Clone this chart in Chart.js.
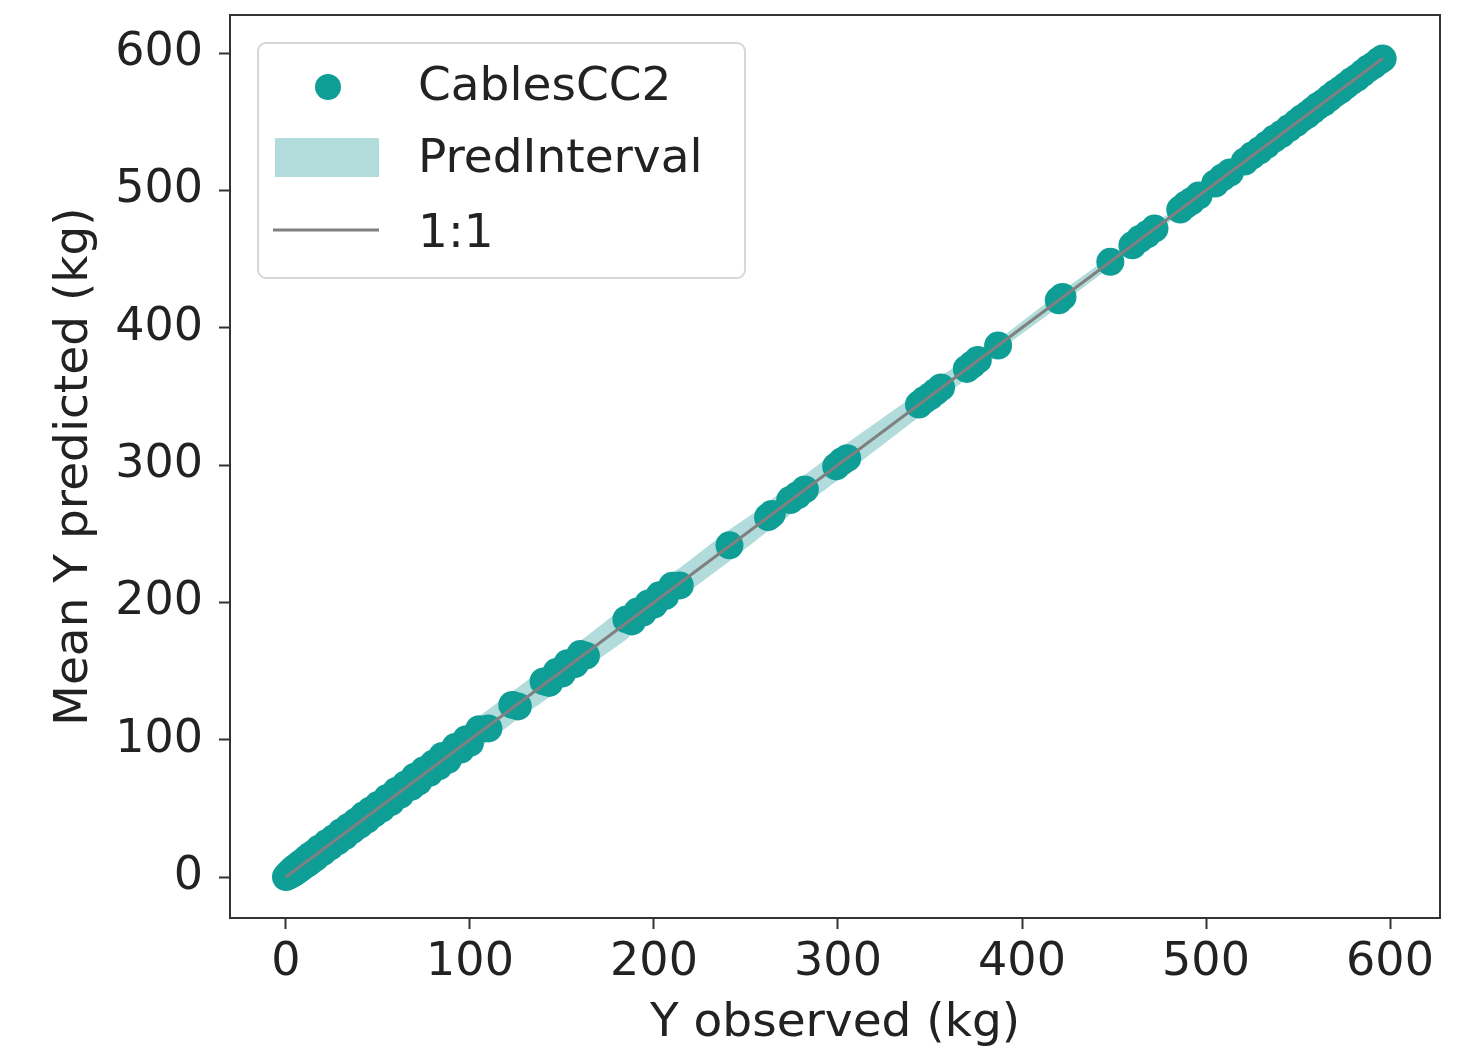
<!DOCTYPE html>
<html>
<head>
<meta charset="utf-8">
<script src="https://cdn.jsdelivr.net/npm/chart.js@4.4.1/dist/chart.umd.min.js"></script>
<style>
  html, body { margin: 0; padding: 0; background: #ffffff; }
  #wrap { width: 1477px; height: 1047px; position: relative; }
</style>
</head>
<body>
<div id="wrap"><canvas id="c" width="1477" height="1047"></canvas></div>
<script>
// ---------- data ----------
const seriesNames = ['CablesCC2', 'PredInterval', '1:1'];
const xTickLabels = [0, 100, 200, 300, 400, 500, 600];
const yTickLabels = [0, 100, 200, 300, 400, 500, 600];
const xTitle = 'Y observed (kg)';
const yTitle = 'Mean Y predicted (kg)';

const observed = [
  0, 1, 2, 3, 4, 5, 6, 7, 8, 9, 10, 11, 12, 13, 14, 15, 16, 18, 20, 22,
  24, 26, 28, 30, 32, 34, 36, 38, 40, 42, 44, 46, 48, 50, 52, 55, 57, 60, 62, 65,
  68, 70, 72, 75, 78, 80, 83, 85, 88, 92, 95, 98, 100, 105, 110, 123, 126, 140, 143, 147,
  150, 153, 157, 160, 163, 185, 188, 191, 194, 197, 200, 203, 206, 210, 214, 241, 262, 264, 274, 278,
  282, 299, 302, 305, 344, 347, 350, 353, 356, 370, 373, 376, 387, 420, 422, 448, 460, 464, 468, 472,
  486, 489, 492, 496, 505, 509, 513, 521, 525, 529, 533, 537, 541, 545, 549, 552, 555, 558, 561, 564,
  567, 570, 573, 576, 579, 582, 585, 588, 591, 594, 596
];
const predicted = [
  0, 1.8, 1.2, 4.5, 2.6, 6.8, 4.4, 8.9, 6.5, 10.8, 8.4, 13.2, 10.1, 15.3, 12.4, 17.2, 14.1, 20.6, 18.1, 24.5,
  22.2, 28.3, 26.0, 32.6, 29.8, 36.4, 34.1, 40.3, 37.9, 44.7, 41.8, 48.5, 46.2, 52.4, 49.8, 57.6, 54.6, 62.7, 59.8, 67.4,
  65.6, 73.0, 69.5, 77.8, 75.9, 82.4, 80.6, 88.1, 85.4, 94.6, 92.8, 100.4, 97.6, 107.6, 108.2, 125.3, 124.2, 142.4, 141.3, 149.2,
  148.1, 155.7, 155.0, 162.3, 161.2, 187.6, 186.1, 193.3, 192.6, 199.2, 198.4, 205.1, 204.5, 212.1, 212.3, 241.5, 262, 264.3, 274.5, 278,
  282.2, 299, 302.5, 305, 344, 347.4, 350, 353.2, 356.5, 370, 373.2, 376.5, 387, 420, 422.4, 448, 460, 464.5, 468, 472.2,
  486, 489.5, 492, 496.2, 505, 509.4, 513, 521, 525.3, 529, 533.2, 537.5, 541, 545.2, 549, 552.4, 555, 558.2, 561.5, 564,
  567.2, 570.5, 573, 576.2, 579.4, 582, 585.2, 588.5, 591, 594.2, 596
];
const intervalLower = [
  -2, -1, -1, 0, 0, 1, 2, 2, 3, 4, 4, 5, 6, 6, 7, 8, 8, 10, 12, 13,
  15, 17, 18, 20, 22, 24, 26, 29, 32, 33, 35, 37, 39, 40, 41, 45, 46, 50, 51, 55,
  57, 60, 61, 65, 67, 70, 72, 75, 77, 82, 84, 88, 89, 94, 99, 112, 115, 128, 131, 136,
  138, 142, 145, 149, 152, 173, 177, 179, 183, 185, 189, 191, 195, 198, 203, 230, 252, 253, 264, 267,
  271, 288, 292, 295, 335, 338, 341, 345, 348, 363, 366, 370, 383, 415, 418, 444, 456, 461, 464, 469,
  483, 486, 489, 493, 502, 507, 510, 519, 523, 527, 531, 535, 539, 543, 547, 550, 553, 556, 559, 562,
  565, 568, 571, 574, 577, 580, 583, 586, 589, 592, 594
];
const intervalUpper = [
  2, 4, 6, 6, 9, 9, 11, 12, 14, 14, 16, 17, 19, 20, 22, 22, 24, 26, 28, 31,
  33, 35, 38, 40, 42, 44, 47, 47, 48, 52, 53, 56, 58, 61, 63, 66, 69, 71, 75, 76,
  80, 82, 85, 86, 91, 91, 95, 96, 100, 103, 108, 109, 112, 117, 122, 135, 138, 152, 156, 159,
  163, 165, 170, 172, 175, 198, 200, 204, 206, 210, 212, 216, 218, 222, 225, 253, 272, 275, 285, 289,
  293, 310, 313, 316, 353, 356, 359, 362, 365, 377, 380, 383, 391, 425, 427, 452, 464, 468, 472, 476,
  489, 493, 495, 499, 508, 512, 516, 523, 528, 531, 535, 540, 543, 547, 551, 554, 557, 560, 563, 566,
  569, 572, 575, 578, 581, 584, 587, 590, 593, 596, 598
];
const oneToOneX = [0, 596];
const oneToOneY = [0, 596];

// ---------- styles ----------
const pointColor = 'rgb(14,158,150)';
const bandColor = 'rgba(0,139,139,0.3)';
const lineColor = '#808080';
const textColor = '#222222';
const FONT = 'DejaVu Sans';

const toXY = (xs, ys) => xs.map((x, i) => ({ x: x, y: ys[i] }));

const frame = {
  id: 'frame',
  afterDatasetsDraw(chart) {
    const a = chart.chartArea, ctx = chart.ctx;
    ctx.save();
    ctx.strokeStyle = '#333333';
    ctx.lineWidth = 2;
    ctx.strokeRect(a.left, a.top, a.right - a.left, a.bottom - a.top);
    ctx.restore();
  }
};

const mplLegend = {
  id: 'mplLegend',
  afterDraw(chart) {
    const ctx = chart.ctx;
    const ds = chart.data.datasets;
    const pts = ds.find(d => d.label === seriesNames[0]);
    const band = ds.find(d => d.label === seriesNames[1]);
    const line = ds.find(d => d.label === seriesNames[2]);
    ctx.save();
    const bx = 258, by = 43, bw = 487, bh = 235, r = 8;
    ctx.beginPath();
    ctx.moveTo(bx + r, by);
    ctx.arcTo(bx + bw, by, bx + bw, by + bh, r);
    ctx.arcTo(bx + bw, by + bh, bx, by + bh, r);
    ctx.arcTo(bx, by + bh, bx, by, r);
    ctx.arcTo(bx, by, bx + bw, by, r);
    ctx.closePath();
    ctx.fillStyle = 'rgba(255,255,255,0.85)';
    ctx.fill();
    ctx.strokeStyle = '#d6d6d6';
    ctx.lineWidth = 2;
    ctx.stroke();

    ctx.beginPath();
    ctx.arc(328, 87, 13, 0, Math.PI * 2);
    ctx.fillStyle = pts.backgroundColor;
    ctx.fill();
    ctx.fillStyle = band.backgroundColor;
    ctx.fillRect(275, 138, 104, 39);
    ctx.beginPath();
    ctx.moveTo(273, 230);
    ctx.lineTo(379, 230);
    ctx.strokeStyle = line.borderColor;
    ctx.lineWidth = 3;
    ctx.stroke();

    ctx.fillStyle = textColor;
    ctx.font = '47px "' + FONT + '"';
    ctx.textAlign = 'left';
    ctx.textBaseline = 'middle';
    ctx.fillText(pts.label, 418, 88);
    ctx.fillText(band.label, 418, 160);
    ctx.fillText(line.label, 418, 235);
    ctx.restore();
  }
};

const xMin = -30.43, xMax = 627.17;
const yMin = -29.85, yMax = 627.7;

new Chart(document.getElementById('c'), {
  type: 'scatter',
  data: {
    datasets: [
      {
        label: 'lower',
        type: 'line',
        data: toXY(observed, intervalLower),
        borderWidth: 0,
        borderColor: 'rgba(0,0,0,0)',
        pointRadius: 0,
        fill: false,
        tension: 0,
        order: 4
      },
      {
        label: seriesNames[1],
        type: 'line',
        data: toXY(observed, intervalUpper),
        borderWidth: 0,
        borderColor: 'rgba(0,0,0,0)',
        backgroundColor: bandColor,
        pointRadius: 0,
        fill: '-1',
        tension: 0,
        order: 3
      },
      {
        label: seriesNames[0],
        data: toXY(observed, predicted),
        pointRadius: 14,
        pointHoverRadius: 14,
        borderWidth: 0,
        backgroundColor: pointColor,
        borderColor: pointColor,
        order: 2
      },
      {
        label: seriesNames[2],
        type: 'line',
        data: toXY(oneToOneX, oneToOneY),
        borderColor: lineColor,
        borderWidth: 3,
        pointRadius: 0,
        fill: false,
        order: 1
      }
    ]
  },
  options: {
    responsive: false,
    animation: false,
    events: [],
    layout: { padding: { top: 15, right: 37, left: 0, bottom: 0 } },
    plugins: {
      legend: { display: false },
      tooltip: { enabled: false },
      filler: { propagate: false }
    },
    scales: {
      x: {
        type: 'linear',
        min: xMin,
        max: xMax,
        afterFit(s) { s.height = 129; s.paddingLeft = 0; s.paddingRight = 0; },
        afterBuildTicks(s) { s.ticks = xTickLabels.map(v => ({ value: v })); },
        grid: { display: true, drawOnChartArea: false, drawTicks: true, tickLength: 11, tickColor: '#333333', tickWidth: 2 },
        border: { display: false },
        ticks: { color: textColor, font: { family: FONT, size: 46 }, padding: 6, maxRotation: 0, autoSkip: false,
                 callback: v => String(v) },
        title: { display: true, text: xTitle, color: textColor, font: { family: FONT, size: 47, lineHeight: 1.0 }, padding: { top: 0, bottom: 0 } }
      },
      y: {
        type: 'linear',
        min: yMin,
        max: yMax,
        afterFit(s) { s.width = 230; s.paddingTop = 0; s.paddingBottom = 0; },
        afterBuildTicks(s) { s.ticks = yTickLabels.map(v => ({ value: v })); },
        grid: { display: true, drawOnChartArea: false, drawTicks: true, tickLength: 11, tickColor: '#333333', tickWidth: 2 },
        border: { display: false },
        ticks: { color: textColor, font: { family: FONT, size: 46 }, padding: 16, autoSkip: false,
                 callback: v => String(v) },
        title: { display: true, text: yTitle, color: textColor, font: { family: FONT, size: 47, lineHeight: 1.0 }, padding: { top: 51, bottom: 0 } }
      }
    }
  },
  plugins: [frame, mplLegend]
});
</script>
</body>
</html>
